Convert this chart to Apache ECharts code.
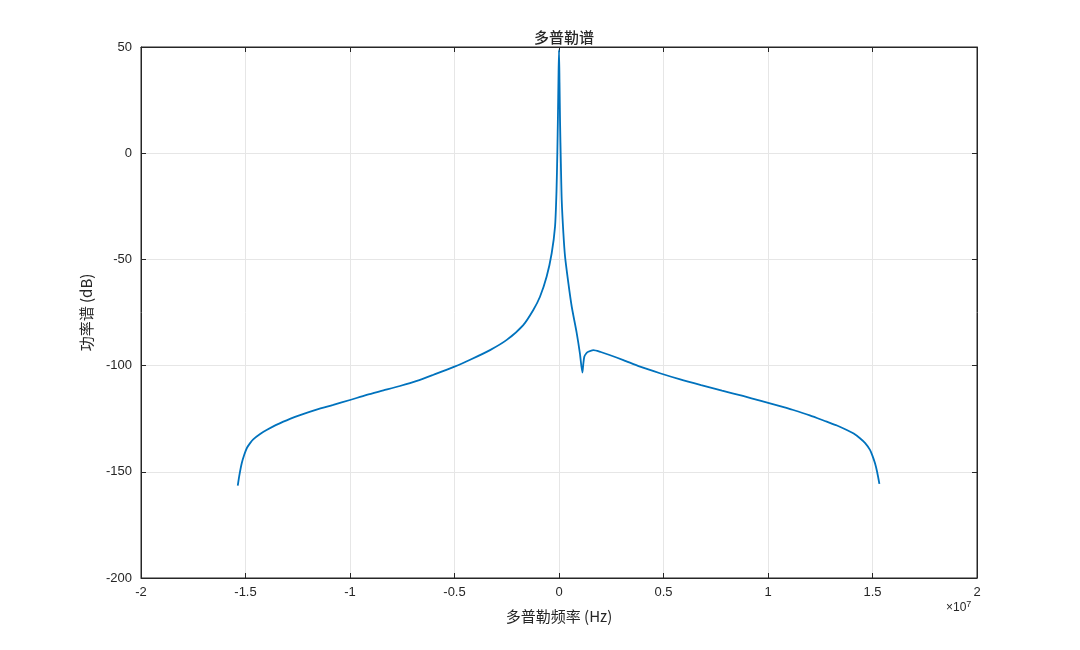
<!DOCTYPE html>
<html><head><meta charset="utf-8">
<script src="https://cdn.jsdelivr.net/npm/echarts@6/dist/echarts.min.js"></script>
<style>html,body{margin:0;padding:0;background:#fff}#c{width:1080px;height:650px}</style>
</head><body><div id="c"></div>
<script>
// Doppler frequency in units of 1e7 Hz
const dopplerFreq = [
-1.537,-1.530,-1.518,-1.506,-1.494,-1.478,-1.463,-1.430,-1.399,-1.319,-1.239,-1.160,-1.080,-1.000,-0.920,-0.840,-0.761,-0.680,-0.600,-0.500,-0.420,-0.330,-0.250,-0.171,-0.123,-0.091,-0.059,-0.035,-0.019,-0.012,-0.008,-0.005,-0.0025,0,
0.0025,0.005,0.009,0.013,0.021,0.029,0.045,0.061,0.085,0.100,0.112,0.116,0.121,0.130,0.140,0.164,0.200,0.242,0.308,0.388,0.483,0.580,0.680,0.780,0.880,0.962,1.040,1.121,1.200,1.281,1.330,1.377,1.410,1.440,1.465,1.488,1.500,1.512,1.522,1.533];
// Power spectrum in dB
const powerDb = [
-156.5,-152,-146.0,-142,-138.9,-136.5,-134.7,-132.2,-130.3,-126.4,-123.3,-120.7,-118.5,-116.2,-113.8,-111.7,-109.6,-107.2,-104.3,-100.5,-97,-92.7,-87.9,-80.9,-73.8,-67.6,-58.1,-47.1,-34.6,-18,0,18,35,48.6,
33,15,-5,-22,-37.7,-48.7,-61.3,-72.3,-84.8,-94.2,-103.3,-99.5,-95.8,-94.3,-93.5,-92.7,-93.6,-95,-97.4,-100.5,-103.6,-106.5,-109.2,-111.8,-114.3,-116.5,-118.6,-120.9,-123.4,-126.4,-128.2,-130.3,-132.0,-134.2,-136.5,-139.7,-142.5,-146,-150,-155.7];
const titleText = '多普勒谱';
const xName = '多普勒频率 (Hz)';
const yName = '功率谱 (dB)';

const pts = dopplerFreq.map((x, i) => [x, powerDb[i]]);
const font = '"Liberation Sans","Noto Sans CJK SC",sans-serif';
const cjk = '"Noto Sans CJK SC","Liberation Sans",sans-serif';
const chart = echarts.init(document.getElementById('c'));
const tick = {show: true, inside: true, length: 5, lineStyle: {color: '#262626'}};
const line = {show: true, onZero: false, lineStyle: {color: '#262626', width: 1}};
const split = {show: true, lineStyle: {color: '#e6e6e6', width: 1}};
chart.setOption({
  animation: false,
  backgroundColor: '#fff',
  title: {text: titleText, left: 559, textAlign: 'center', top: 25,
    textStyle: {fontFamily: cjk, fontSize: 15, fontWeight: 500, color: '#262626'}},
  grid: {left: 141, right: 103, top: 47, bottom: 72, show: true, borderColor: '#262626', borderWidth: 1},
  xAxis: [{type: 'value', min: -2, max: 2, interval: 0.5, axisLine: line, axisTick: tick, splitLine: split,
    axisLabel: {color: '#262626', fontFamily: font, fontSize: 13, margin: 8},
    name: xName, nameLocation: 'middle', nameGap: 31,
    nameTextStyle: {fontFamily: cjk, fontSize: 15, color: '#262626'}},
    {type: 'value', min: -2, max: 2, interval: 0.5, position: 'top',
    axisLine: line, axisTick: tick, axisLabel: {show: false}, splitLine: {show: false}}],
  yAxis: [{type: 'value', min: -200, max: 50, interval: 50, axisLine: line, axisTick: tick, splitLine: split,
    axisLabel: {color: '#262626', fontFamily: font, fontSize: 13, margin: 9},
    name: yName, nameLocation: 'middle', nameGap: 47,
    nameTextStyle: {fontFamily: cjk, fontSize: 15, color: '#262626'}},
    {type: 'value', min: -200, max: 50, interval: 50, position: 'right',
    axisLine: line, axisTick: tick, axisLabel: {show: false}, splitLine: {show: false}}],
  graphic: [{type: 'text', left: 946, top: 600,
    style: {text: '×10{s|7}', rich: {s: {fontSize: 9, verticalAlign: 'top', fontFamily: font, fill: '#262626', padding: [0,0,6,0]}},
      fontFamily: font, fontSize: 12, fill: '#262626'}}],
  series: [{type: 'line', data: pts, showSymbol: false, smooth: 0.25,
    lineStyle: {color: '#0072BD', width: 1.8}, clip: true}]
});
</script></body></html>
